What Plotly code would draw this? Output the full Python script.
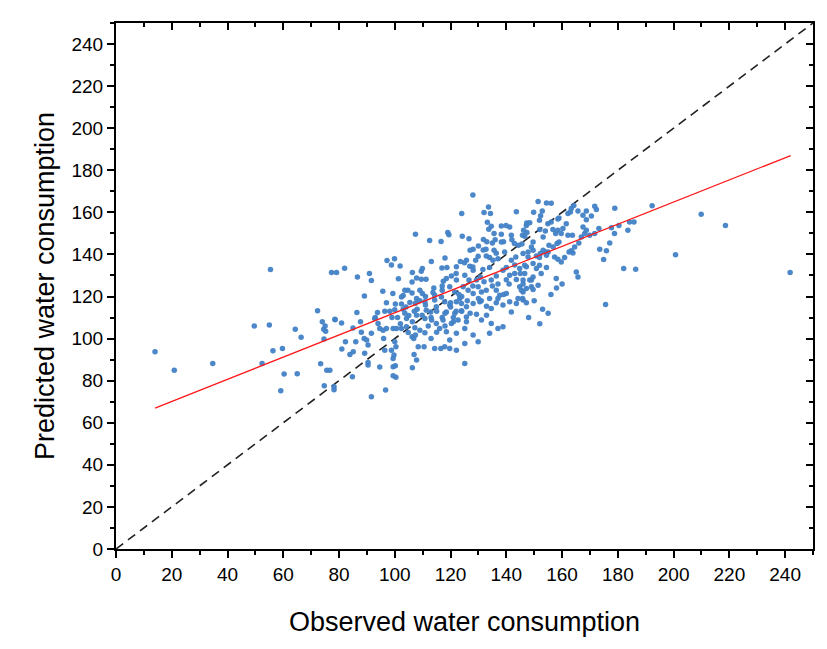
import plotly.graph_objects as go

# Observed / predicted water consumption
obs = [14, 20.9, 34.7, 55.4, 77.3, 79.1, 72.3, 49.6, 55, 64.3, 66.4, 74, 75, 74.5, 75.2, 78.6, 74.6, 56.3, 59.7, 52.4,
       73.4, 60.3, 65, 75.6, 76.7, 74.7, 78.2, 78.2, 59.1,
       107.4, 112.5, 116.6, 97.2, 99.9, 98.8, 101.9, 113.1, 82, 90.9, 86.6, 91.6, 101.3, 106.3, 109.9, 109.5, 107.8,
       109.5, 111.2, 106.2, 116.9, 117.4, 95.7, 99.3, 89.1, 103.6, 104.7, 103, 102.4, 106.2, 109.9, 113.7, 114.3, 117,
       107.8,
       86.4, 78.5, 80.9, 87.7, 93.8, 96.4, 92.8, 98.2, 100, 100.2, 102.4, 105.4, 107.4, 103.6, 104.2, 94, 95.8, 97,
       94.6, 99.4, 100.6, 102.4, 104.2, 106.3, 107.2, 110.8, 113.2, 107.8, 109.8, 111.3, 112.9, 114.9, 110.8, 114.3,
       116.7, 114.9, 116.1, 109, 110.8, 104.8, 106.2, 106.8, 107.4, 108.4, 110.5, 114.3, 116.5, 82.3, 86, 89, 89.9,
       90.4, 91.6, 83.9, 85.1, 89.2, 100, 100.4, 98.8, 99.7, 99.4, 96.4, 106.9, 107.8, 90.4, 90.4, 94.6, 99.4, 100.2,
       106.3, 84.8, 99.4, 100.4, 91.6, 96.7,
       128, 124, 132, 134.3, 133.6, 143.6, 151.4, 154.4, 156.1, 149.8, 152.3, 158.5, 119, 119.4, 124.2, 126.6, 133.2,
       134.6, 133.7, 138.2, 139.9, 141.2, 138.2, 135.6, 131.8, 135, 138.2, 141.8, 142.9, 147.3, 148.4, 146.6, 147.4,
       151.9, 154, 156.7, 158.5, 153.2, 158.2, 128.1, 131.7, 132.7, 135.6, 136.4, 139.4, 144.4, 145.6, 149.6, 154.1,
       118, 125.7, 123.5, 129, 129.9, 132.8, 134, 135.2, 137, 141.8, 143.4, 147.8, 150.8, 151.9, 157.3, 158.5, 118.7,
       122.1, 126.9, 128.1, 131.6, 134, 138.8, 140, 144.8, 146.6, 151.9, 154.4, 157.9, 118.5, 120.3, 122.1, 125.1,
       126.6, 129.3, 130.7, 134.6, 136.4, 141.2, 143.6, 148.4, 149.6, 119.7, 121.5, 124.5, 126.3, 128.1, 129.9, 131.1,
       132.8, 136.4, 137.6, 140, 144.8, 146, 149, 144.2, 123.3, 134, 137,
       117.9, 119.7, 122.1, 123.9, 125.7, 128.1, 130.5, 132.9, 134.6, 136.4, 138.8, 141.2, 143.6, 146, 147.2, 118.5,
       121.5, 123.9, 125.7, 129.3, 132.9, 141.8, 117.3, 120.3, 122.7, 125.7, 131.1, 134.6, 137, 138.8, 118.5, 122.1,
       125.1, 128.1, 134, 119.7, 125.1, 129.9, 117.9, 119.7, 122.1, 125.1,
       152.9, 147.2, 146.2, 145.8, 152, 154.9, 156.1, 158.9, 164.2, 163.3, 162.1, 163, 165.7, 168.7, 172.3, 171.7,
       167.5, 170.5, 168.7, 178.9, 192.3, 209.9, 218.6, 161.5, 160.3, 157.7, 159.7, 162.1, 163.7, 167.5, 168.7, 168.1,
       169.9, 171.7, 173.2, 177.7, 180.4, 178.8, 183.6, 184.2, 185.8, 177.1, 173.5, 175.9, 174.9, 166.9, 166, 164.5,
       163.3, 163.9, 162.5, 160.9, 159.7, 158.9, 156.8, 155.3, 153.2, 149.6, 149, 147.8, 146, 152.2, 155, 154.4, 149.6,
       147.2, 150.8, 152.5, 165.1, 165.7, 182.1, 186.4, 200.7, 241.8, 175.6, 146.6, 149, 146, 147.2, 149.6, 151.4,
       145.4, 145.8, 150, 153, 156, 148, 152, 158, 160, 155,
       101, 103, 105, 108, 111, 113, 115, 118, 120, 122, 97, 99, 102, 104, 107, 109, 112, 115, 117, 121,
       124, 126, 128, 130, 132, 135, 137, 139, 141, 143, 127, 130, 133, 136, 139, 142, 145, 122, 125, 128,
       111, 114, 117, 120, 123, 96, 93, 88, 85, 81, 140, 143, 146, 131, 127, 124, 121, 118, 113, 109]

pred = [93.7, 85, 88.2, 132.8, 131.4, 131.4, 113.2, 106, 106.5, 104.4, 100.7, 108, 106, 104.5, 103.5, 108.9, 99.8, 94.2,
        95.3, 88.2, 88, 83.2, 83.3, 84.9, 84.9, 77.6, 77.1, 75.7, 75.2,
        149.6, 146.6, 146.2, 137.1, 138, 135, 134.5, 136.6, 133.4, 130.9, 129.3, 127.6, 128.4, 131.4, 133.3, 132,
        128.8, 128.2, 128.2, 126.9, 133.6, 127.3, 122.5, 121.4, 120.3, 123, 123, 120.5, 119.8, 121.7, 121.4, 121.9,
        120.6, 123, 119,
        112.4, 109.2, 107.4, 108, 112.4, 113, 109.6, 113, 113.7, 116.5, 116.5, 117.2, 116.8, 112, 109.6, 107.2, 104,
        104.8, 104.8, 104.8, 104.8, 104.8, 105.6, 108, 105.1, 109.6, 108.8, 111.1, 111.1, 113.5, 112.7, 115.1, 117.5,
        118.3, 119.8, 107.2, 104.8, 104, 102.8, 102.9, 100.9, 100.1, 101.7, 96.1, 96.1, 95.3, 95.3, 98.5, 98.5, 100.1,
        99.3, 96.9, 102.5, 92.5, 93.7, 93, 98.5, 96.1, 94.5, 92.2, 90.6, 94.5, 92.5, 89.8, 88.7, 87.4, 86.5, 86.6, 87.1,
        86.1, 81.9, 82.4, 81.6, 72.4, 75.6,
        168.2, 159.5, 159.9, 159.5, 162.5, 160.3, 165.2, 164.4, 164.3, 160, 158.4, 156.9, 150.4, 149.4, 148.6, 147.5,
        155.3, 153.4, 152, 153.5, 153.8, 153, 149.6, 149.9, 147.1, 145.4, 145.9, 149.1, 145.2, 154.9, 155.1, 148.6,
        150.4, 156.2, 151.1, 151.8, 151.5, 148.3, 145.2, 142.5, 142.1, 142.5, 142, 140.6, 141.2, 144.4, 145, 142, 141.2,
        138.3, 137.2, 136.6, 137.2, 139.1, 139.3, 138.5, 137.2, 137.9, 137.2, 138.8, 138.8, 139.3, 138.5, 138.8, 137.7,
        133.8, 134.1, 134.4, 132.5, 132.8, 133.8, 132.5, 133.8, 133.3, 134.9, 134.9, 133.8, 128.6, 128.6, 129.7, 127.8,
        130.1, 127.8, 127.8, 129.3, 127.8, 129.7, 130.1, 128.1, 127.8, 129.3, 124.6, 122.2, 124.6, 123, 121.4, 124.6,
        122.2, 123, 123, 120.6, 121.4, 124.6, 122.2, 124.6, 119, 119, 119, 119,
        117.5, 116, 117.5, 116.7, 115.1, 116.7, 117.5, 115.4, 114.3, 117, 116, 117.5, 116.7, 118.3, 117, 112.7, 112,
        113.2, 110.3, 111.6, 111.1, 112.7, 108.8, 107.2, 108.8, 108, 108.8, 107.2, 104.8, 105.6, 103.2, 102.5, 104.8,
        101.7, 102.5, 99.3, 97.7, 98.5, 96.1, 95.3, 94.5, 88.2,
        160.6, 153.8, 151.5, 149.1, 151.8, 154.6, 155.4, 157.3, 163.3, 161.8, 159.4, 160.2, 160.6, 160.6, 161.3, 162.9,
        158.6, 158.3, 156.5, 161.9, 163.2, 159.1, 153.8, 154.6, 152.3, 149.9, 149.9, 149.1, 149.1, 153, 151.5, 149.9,
        149.1, 149.9, 152.3, 152.7, 153.8, 149.9, 151.5, 155.4, 155.4, 145.4, 142.5, 141.7, 137.6, 148.3, 145.4, 143.5,
        141.7, 140.7, 141.2, 138.5, 136.4, 145.9, 143.5, 144.4, 142, 145.9, 143.5, 141.2, 140.4, 140.4, 141.2, 139.6,
        135.7, 134.1, 133.3, 130.9, 131.7, 129.3, 133.3, 133, 139.9, 131.4, 116.2, 130.9, 127.8, 127.8, 123.8, 123.3,
        125.4, 123, 119, 118, 114, 121, 110, 107, 124, 126, 112,
        110, 114, 111, 114, 116, 110, 113, 112, 115, 113, 117, 110, 107, 115, 113, 118, 106, 103, 110, 110,
        120, 118, 125, 119, 127, 125, 126, 121, 126, 131, 142, 144, 146, 147, 146, 147, 131, 131, 136, 134,
        120, 124, 125, 117, 121, 100, 110, 103, 105, 95, 128, 135, 126, 118, 112, 113, 108, 106, 100, 123]

# Fitted regression line end points and the 1:1 reference line
fit_x = [14, 242]
fit_y = [67, 187]
ref_x = [0, 250]
ref_y = [0, 250]

FONT = "Arial, 'Liberation Sans', sans-serif"

fig = go.Figure()
fig.add_trace(go.Scatter(x=ref_x, y=ref_y, mode="lines",
                         line=dict(color="#222222", width=1.6, dash="9px,6px"),
                         hoverinfo="skip", showlegend=False))
fig.add_trace(go.Scatter(x=obs, y=pred, mode="markers",
                         marker=dict(color="#4282c6", size=5.5, opacity=0.95, line=dict(width=0)),
                         showlegend=False))
fig.add_trace(go.Scatter(x=fit_x, y=fit_y, mode="lines",
                         line=dict(color="#ff1a1a", width=1.3), showlegend=False))
# invisible trace to activate the mirror axes (top / right, inward ticks)
fig.add_trace(go.Scatter(x=[0], y=[0], xaxis="x2", yaxis="y2", mode="markers",
                         marker=dict(opacity=0), hoverinfo="skip", showlegend=False))

tickvals = list(range(0, 241, 20))
common = dict(range=[0, 250], showgrid=False, zeroline=False, showline=True, automargin=False,
              linecolor="black", linewidth=2, tickcolor="black", tickwidth=1.5)

# the page body adds an 8px offset, margins compensate for it
fig.update_layout(
    width=827, height=649,
    margin=dict(l=108, r=22, t=15, b=108),
    paper_bgcolor="white", plot_bgcolor="white",
    font=dict(family=FONT, color="black"),
    xaxis=dict(**common, tickvals=tickvals, ticks="outside", ticklen=7,
               minor=dict(ticks="outside", ticklen=4, dtick=10, tick0=0, tickcolor="black", tickwidth=1.5),
               tickfont=dict(size=19, family=FONT),
               title=dict(text="Observed water consumption", font=dict(size=27, family=FONT), standoff=28)),
    yaxis=dict(**common, tickvals=tickvals, ticks="outside", ticklen=7,
               minor=dict(ticks="outside", ticklen=4, dtick=10, tick0=0, tickcolor="black", tickwidth=1.5),
               tickfont=dict(size=19, family=FONT),
               title=dict(text="Predicted water consumption", font=dict(size=27, family=FONT), standoff=9)),
    xaxis2=dict(**common, overlaying="x", side="top", tickvals=tickvals, ticks="inside", ticklen=7,
                minor=dict(ticks="inside", ticklen=4, dtick=10, tick0=0, tickcolor="black", tickwidth=1.5),
                showticklabels=False),
    yaxis2=dict(**common, overlaying="y", side="right", tickvals=tickvals, ticks="inside", ticklen=7,
                minor=dict(ticks="inside", ticklen=4, dtick=10, tick0=0, tickcolor="black", tickwidth=1.5),
                showticklabels=False),
)

fig.write_html("out.html")
